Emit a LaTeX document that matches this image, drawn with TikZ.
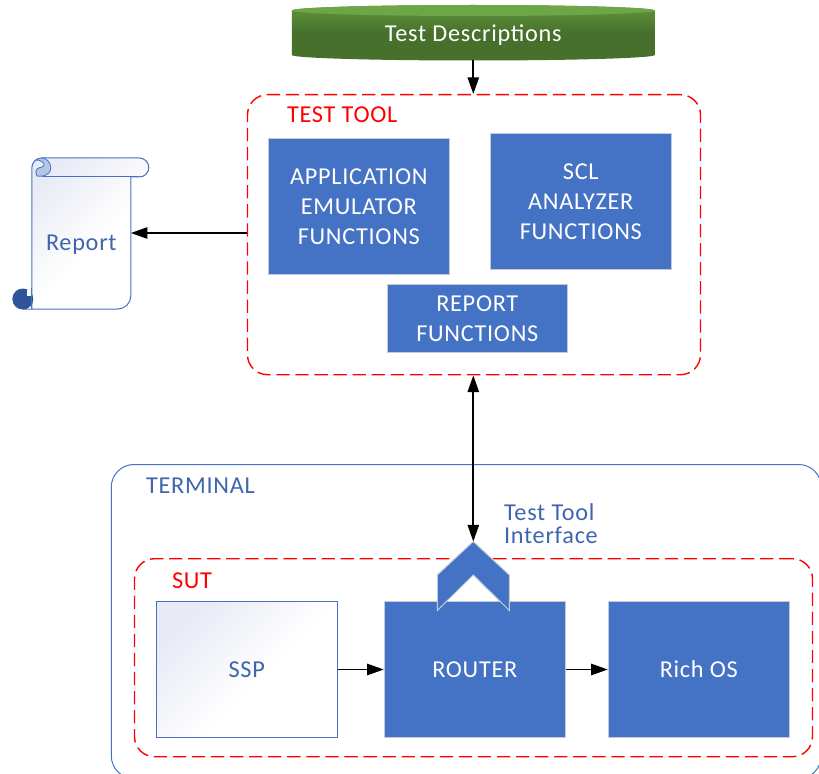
\documentclass[tikz,border=0pt]{standalone}
\usepackage{fontspec}
\setmainfont[LetterSpace=3]{Carlito}
\usetikzlibrary{arrows.meta}
\definecolor{bluef}{HTML}{4472C4}
\definecolor{blued}{HTML}{2F5597}
\definecolor{bluet}{HTML}{3F65B0}
\definecolor{lav}{HTML}{E8EAF5}
\definecolor{grayb}{HTML}{C4CBD8}
\definecolor{redd}{HTML}{FF0000}
\pgfdeclarehorizontalshading{lavshade}{100bp}{color(0bp)=(lav); color(25bp)=(lav); color(55bp)=(white); color(100bp)=(white)}
\definecolor{gtop}{HTML}{5F963B}
\definecolor{gbot}{HTML}{48702D}
\definecolor{gtoptop}{HTML}{6CA646}
\tikzset{
 x=0.75pt,y=-0.75pt,
 txt/.style={font=\fontsize{18.2pt}{22.7pt}\selectfont,align=center,inner sep=0pt},
 bluebox/.style={txt,anchor=north west,fill=bluef,draw=grayb,line width=0.75pt,text=white},
 lavbox/.style={txt,anchor=north west,shading=lavshade,shading angle=-45,draw=bluef,line width=0.75pt,text=bluet},
 dashbox/.style={anchor=north west,draw=redd,dash pattern=on 10pt off 4.3pt,line width=1.05pt,rounded corners=15pt,inner sep=0pt},
 lbl/.style={txt,anchor=west},
 conn/.style={draw=black,line width=1.25pt,-{Triangle[length=12.5pt,width=8.5pt]}},
 dconn/.style={draw=black,line width=1.25pt,{Triangle[length=12.5pt,width=8.5pt]}-{Triangle[length=12.5pt,width=8.5pt]}},
}
\begin{document}
\begin{tikzpicture}
\useasboundingbox (0,0) rectangle (819,774);
\begin{scope}[xshift=-0.15pt]
\begin{scope}
\clip (0,0) rectangle (820,774);
% terminal
\node[anchor=north west,draw=bluef,line width=0.75pt,rounded corners=17pt,inner sep=0pt,minimum width=710*0.75pt,minimum height=314*0.75pt] (terminal) at (111,464) {};
\end{scope}
\node[lbl,text=bluet] (terminallabel) at (146,486) {TERMINAL};
% test tool
\node[dashbox,minimum width=453*0.75pt,minimum height=280*0.75pt] (tool) at (247,94) {};
\node[lbl,text=redd] (toollabel) at (287,115) {TEST TOOL};
\node[bluebox,minimum width=181*0.75pt,minimum height=136*0.75pt] (app) at (268,138) {APPLICATION\\EMULATOR\\FUNCTIONS};
\node[bluebox,minimum width=181*0.75pt,minimum height=136*0.75pt] (scl) at (490,133) {SCL\\ANALYZER\\FUNCTIONS};
\node[bluebox,minimum width=180*0.75pt,minimum height=68*0.75pt] (rep) at (387,284) {REPORT\\FUNCTIONS};
% cylinder
\shade[top color=gtop,bottom color=gbot,middle color=gbot] (292,10.5) -- (292,55) arc[start angle=180,end angle=0,x radius=181.5,y radius=5.5] -- (655,10.5) arc[start angle=0,end angle=-180,x radius=181.5,y radius=5.5] -- cycle;
\fill[gtoptop] (473.5,10.5) ellipse[x radius=181.5,y radius=5.5];
\node[txt,text=white,minimum width=363*0.75pt,minimum height=55*0.75pt] (desc) at (473.5,35) {Test Descriptions};
% report scroll
\path[shading=lavshade,shading angle=-45,draw=bluef,line width=0.75pt] (32,168) arc[start angle=180,end angle=270,radius=10] -- (139.5,158) arc[start angle=-90,end angle=90,radius=9.5] -- (131,177) -- (131,296) arc[start angle=0,end angle=90,radius=13] -- (23,309) -- (32,309) -- cycle;
\draw[bluef,line width=0.75pt] (139.5,177) -- (42,177);
\draw[bluef,line width=0.6pt,fill=lav!70!bluef] (37,176) .. controls (40,176.5) and (51,177) .. (51,167.5) .. controls (51,162) and (46,158) .. (42,158) .. controls (40,158) and (37,159) .. (36,160) .. controls (40,160) and (46,162) .. (44,166) .. controls (42,168) and (36,167) .. (36,172) -- cycle;
\fill[blued] (23,299) circle[radius=10.5];
\fill[white] (27,289.5) rectangle (32,296);
\draw[bluef,line width=0.75pt] (32,288) -- (32,309);
\node[txt,text=bluet,minimum width=99*0.75pt] (report) at (81.5,245) {Report};
\coordinate (reportedge) at (131,233);
\coordinate (tooledge) at (247,233);
% SUT
\node[dashbox,minimum width=678*0.75pt,minimum height=198*0.75pt] (sut) at (134,558) {};
\node[lbl,text=redd] (sutlabel) at (172,581) {SUT};
\node[lavbox,minimum width=181*0.75pt,minimum height=136*0.75pt] (ssp) at (156,601) {SSP};
\node[bluebox,minimum width=181*0.75pt,minimum height=136*0.75pt] (router) at (384,601) {ROUTER};
\node[bluebox,minimum width=181*0.75pt,minimum height=136*0.75pt] (rich) at (608,601) {Rich OS};
% chevron
\draw[fill=bluef,draw=grayb,line width=0.75pt] (473.5,541.5) -- (509.5,575) -- (509.5,610.5) -- (473.5,575) -- (437.5,610.5) -- (437.5,575) -- cycle;
\coordinate (chevtop) at (473.5,541.5);
\node[font=\fontsize{18.2pt}{17.4pt}\selectfont,inner sep=0pt,anchor=north west,align=left,text=bluet] (iface) at (504,503) {Test Tool\\Interface};
% connectors
\draw[conn] (desc.south |- 0,60) -- (desc.south |- tool.north);
\draw[conn] (tooledge) -- (reportedge);
\draw[dconn] (chevtop |- tool.south) -- (chevtop);
\draw[conn,yshift=-0.35pt] (ssp.east) -- (router.west);
\draw[conn,yshift=-0.35pt] (router.east) -- (rich.west);
\end{scope}
\end{tikzpicture}
\end{document}
